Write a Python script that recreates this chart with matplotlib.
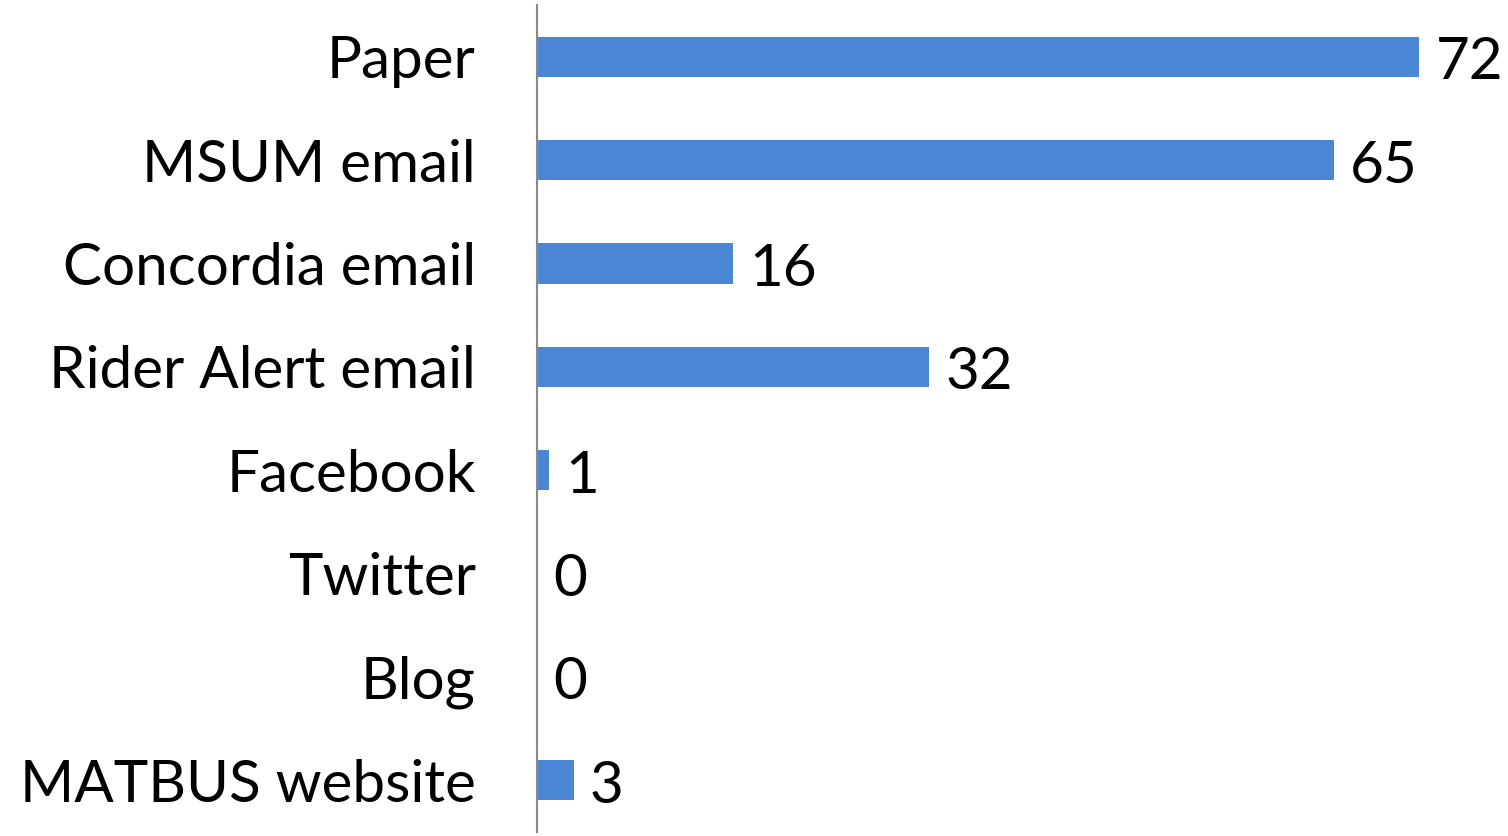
import matplotlib.pyplot as plt

plt.rcParams['font.family'] = ['Lato', 'DejaVu Sans']

# Survey: where respondents heard about it
sources = ['Paper', 'MSUM email', 'Concordia email', 'Rider Alert email',
           'Facebook', 'Twitter', 'Blog', 'MATBUS website']
counts = [72, 65, 16, 32, 1, 0, 0, 3]

bar_color = '#4a86d3'

fig = plt.figure(figsize=(15.08, 8.36), dpi=100)
ax = fig.add_axes([0.356, 0.005, 0.634, 0.989])

y = list(range(len(sources)))
ax.barh(y, counts, height=0.39, color=bar_color)

ax.set_ylim(len(sources) - 0.5, -0.5)
ax.set_xlim(0, 78)
ax.set_yticks(y)
ax.set_yticklabels(sources, fontsize=42)
ax.tick_params(axis='y', length=0, pad=44)
ax.set_xticks([])

for side in ['top', 'right', 'bottom']:
    ax.spines[side].set_visible(False)
ax.spines['left'].set_color('#888888')
ax.spines['left'].set_linewidth(1.5)

for yi, val in zip(y, counts):
    ax.annotate(str(val), xy=(val, yi), xytext=(16, -6),
                textcoords='offset pixels', ha='left', va='center',
                fontsize=42)

fig.savefig('out.png', dpi=100)
